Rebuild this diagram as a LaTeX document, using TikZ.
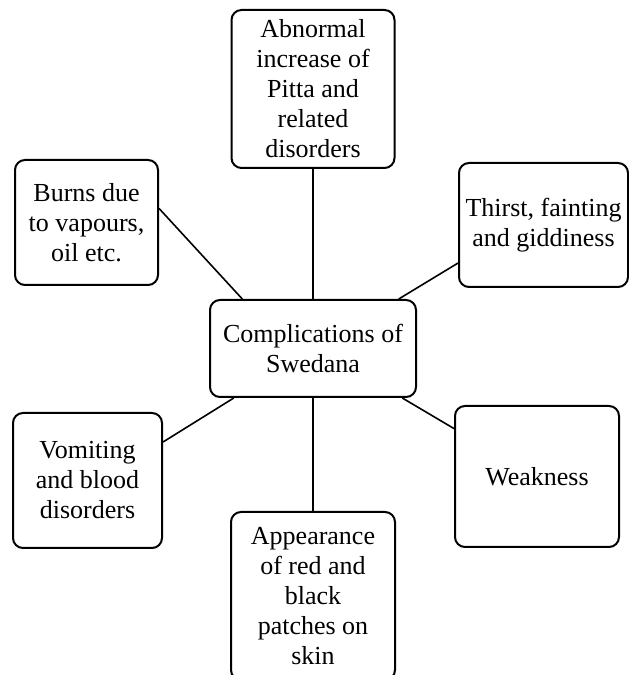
\documentclass[tikz,border=0pt]{standalone}
\usepackage{fontspec}
\setmainfont{Liberation Serif}
\usetikzlibrary{positioning}

\begin{document}
\begin{tikzpicture}[x=0.5pt, y=0.5pt, every node/.style={font=\fontsize{13}{15}\selectfont},
  box/.style={draw, line width=1pt, rounded corners=5pt, align=center, inner sep=2pt},
  link/.style={line width=0.8pt}]
\useasboundingbox (0,0) rectangle (628,675);
\node[box, minimum width=103pt, minimum height=48.5pt] (swed) at (313,326.5) {Complications of\\Swedana};
\node[box, minimum width=81.5pt, minimum height=79pt] (pitta) at (313,586) {Abnormal\\increase of\\Pitta and\\related\\disorders};
\node[box, minimum width=71.5pt, minimum height=62.5pt] (burns) at (86.5,452.5) {Burns due\\to vapours,\\oil etc.};
\node[box, minimum width=84.5pt, minimum height=62pt] (thirst) at (543.5,450) {Thirst, fainting\\and giddiness};
\node[box, minimum width=74.5pt, minimum height=67.5pt] (vomit) at (87.5,194.5) {Vomiting\\and blood\\disorders};
\node[box, minimum width=82pt, minimum height=70.5pt] (weak) at (537,198.5) {Weakness};
\node[box, minimum width=82pt, minimum height=84pt] (patch) at (313,79) {Appearance\\of red and\\black\\patches on\\skin};
\draw[link] (pitta.south) -- (swed.north); \draw[link] (burns.11) -- (swed.145); \draw[link] (thirst.204) -- (swed.30);
\draw[link] (vomit.27) -- (swed.212); \draw[link] (weak.150) -- (swed.331); \draw[link] (swed.south) -- (patch.north);
\end{tikzpicture}
\end{document}
